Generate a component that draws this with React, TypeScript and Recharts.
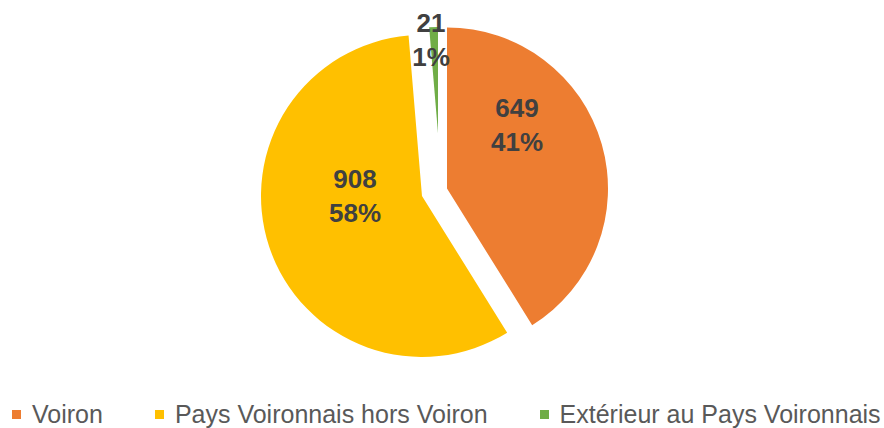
import React from 'react';
import { PieChart, Pie, Cell, Legend } from 'recharts';

const categories = ['Voiron', 'Pays Voironnais hors Voiron', 'Extérieur au Pays Voironnais'];
const values = [649, 908, 21];
const colors = ['#ED7D31', '#FFC000', '#70AD47'];

const data = categories.map((name, i) => ({ name, value: values[i] }));

// layout of each exploded slice: pie centre, radius, label offset from centre
const sliceLayout = [
  { cx: 447, cy: 188.5, r: 161, ldx: 70, ldy: -64 },
  { cx: 422, cy: 196, r: 161, ldx: -67, ldy: 0 },
  { cx: 438, cy: 133, r: 106, ldx: -7, ldy: -93 },
];

const LABEL_FONT = "'Liberation Sans Narrow', 'Liberation Sans', Arial, sans-serif";
const LEGEND_FONT = "'Liberation Sans', Arial, sans-serif";

const makeLabel = (target: number) => (props: any) => {
  const { cx, cy, index, value, percent } = props;
  if (index !== target) return null;
  const L = sliceLayout[target];
  const x = cx + L.ldx;
  const y = cy + L.ldy;
  return (
    <g key={`lbl-${target}`}>
      <text x={x} y={y - 17} textAnchor="middle" dominantBaseline="central"
        fill="#404040" fontSize={26} fontWeight="bold" fontFamily={LABEL_FONT}>
        {value}
      </text>
      <text x={x} y={y + 17} textAnchor="middle" dominantBaseline="central"
        fill="#404040" fontSize={26} fontWeight="bold" fontFamily={LABEL_FONT}>
        {Math.round(percent * 100)}%
      </text>
    </g>
  );
};

const renderLegend = () => (
  <div style={{ display: 'flex', alignItems: 'center', fontFamily: LEGEND_FONT, fontSize: 25, color: '#595959', paddingLeft: 12 }}>
    {categories.map((c, i) => (
      <div key={c} style={{ display: 'flex', alignItems: 'center', marginRight: i < categories.length - 1 ? 52 : 0 }}>
        <span style={{ display: 'inline-block', width: 9, height: 9, background: colors[i], marginRight: 11 }} />
        <span style={{ whiteSpace: 'nowrap', lineHeight: '28px' }}>{c}</span>
      </div>
    ))}
  </div>
);

export default function App() {
  return (
    <div style={{ position: 'absolute', left: 0, top: 0, width: 884, height: 428, background: '#fff' }}>
      <PieChart width={884} height={428} margin={{ top: 0, right: 0, bottom: 0, left: 0 }}>
        {sliceLayout.map((L, si) => (
          <Pie
            key={si}
            data={data}
            dataKey="value"
            nameKey="name"
            cx={L.cx}
            cy={L.cy}
            outerRadius={L.r}
            innerRadius={0}
            startAngle={90}
            endAngle={-270}
            isAnimationActive={false}
            labelLine={false}
            label={makeLabel(si)}
            stroke="none"
            legendType="none"
          >
            {data.map((d, i) => (
              <Cell key={d.name} fill={i === si ? colors[i] : 'transparent'} stroke="none" />
            ))}
          </Pie>
        ))}
        <Legend
          content={renderLegend}
          wrapperStyle={{ position: 'absolute', left: 0, top: 400, width: 884 }}
        />
      </PieChart>
    </div>
  );
}
